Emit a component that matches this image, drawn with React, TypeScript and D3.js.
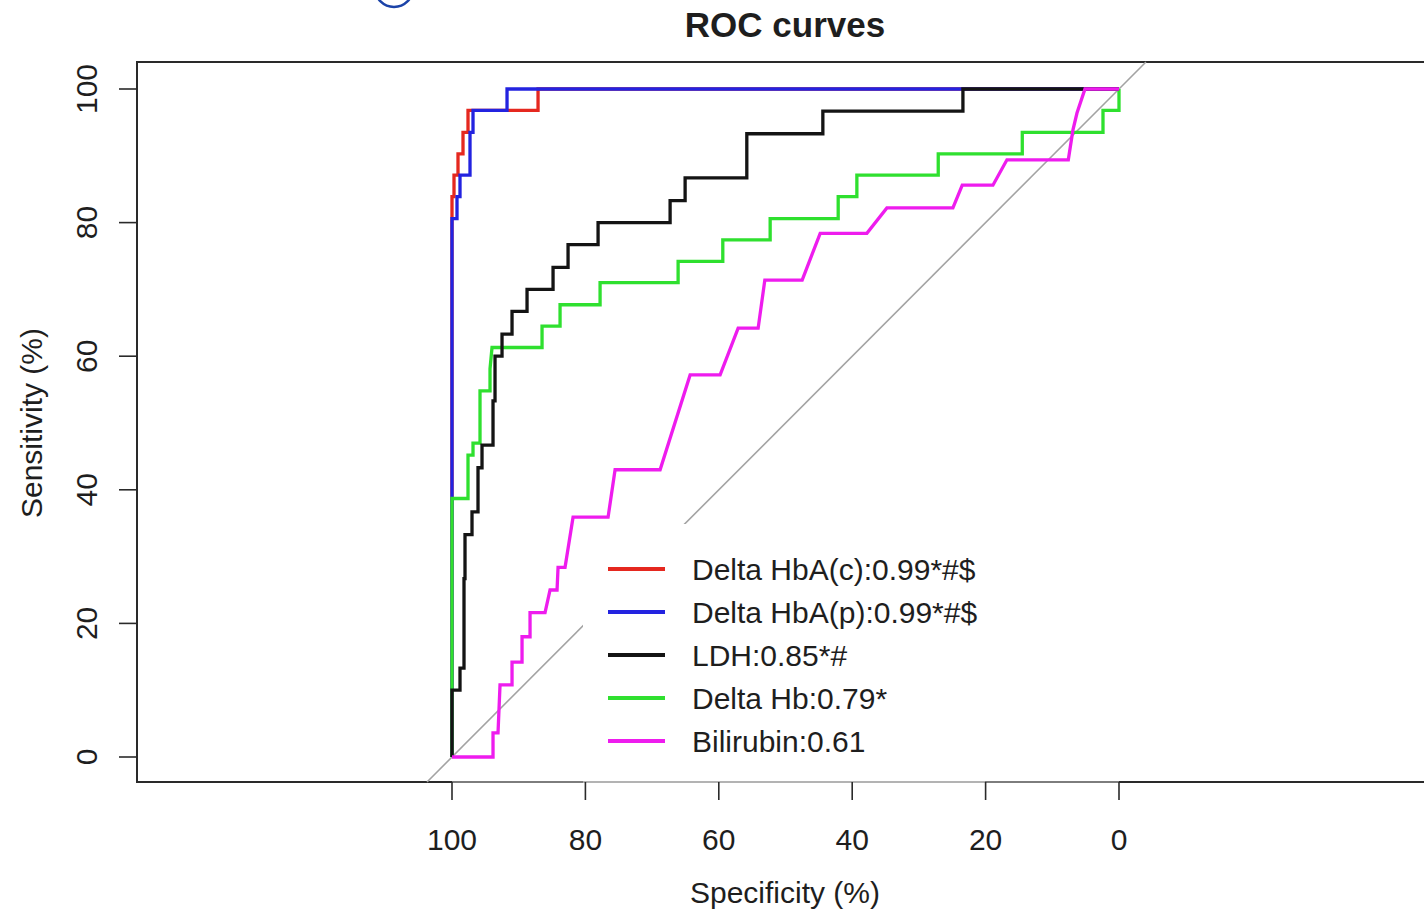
import React from "react";
import * as d3 from "d3";

// ROC curve vertices: specificity (%) and sensitivity (%) for each marker
const hbacSpec = [100, 100, 99.7, 99.7, 99.1, 99.1, 98.35, 98.35, 97.6, 97.6, 87.1, 87.1, 0];
const hbacSens = [0, 83.9, 83.9, 87.1, 87.1, 90.3, 90.3, 93.5, 93.5, 96.8, 96.8, 100, 100];

const hbapSpec = [100, 100, 99.25, 99.25, 98.8, 98.8, 97.3, 97.3, 96.85, 96.85, 91.75, 91.75, 0];
const hbapSens = [0, 80.6, 80.6, 83.9, 83.9, 87.1, 87.1, 93.5, 93.5, 96.8, 96.8, 100, 100];

const ldhSpec = [
  100, 100, 98.8, 98.8, 98.2, 98.2, 98.05, 98.05, 97.0, 97.0, 96.1, 96.1, 95.5, 95.5, 93.85, 93.85,
  93.55, 93.55, 92.5, 92.5, 91.0, 91.0, 88.75, 88.75, 84.85, 84.85, 82.6, 82.6, 78.1, 78.1, 67.3,
  67.3, 65.05, 65.05, 55.8, 55.8, 44.4, 44.4, 23.4, 23.4, 0,
];
const ldhSens = [
  0, 10, 10, 13.3, 13.3, 26.7, 26.7, 33.3, 33.3, 36.7, 36.7, 43.3, 43.3, 46.7, 46.7, 53.3,
  53.3, 60, 60, 63.3, 63.3, 66.7, 66.7, 70, 70, 73.3, 73.3, 76.7, 76.7, 80, 80,
  83.3, 83.3, 86.7, 86.7, 93.3, 93.3, 96.7, 96.7, 100, 100,
];

const hbSpec = [
  100, 100, 97.6, 97.6, 96.85, 96.85, 95.8, 95.8, 94.3, 94.3, 94.0, 86.5, 86.5, 83.8, 83.8, 77.8,
  77.8, 66.1, 66.1, 59.4, 59.4, 52.3, 52.3, 42.1, 42.1, 39.3, 39.3, 27.1, 27.1, 14.5, 14.5, 2.4,
  2.4, 0, 0,
];
const hbSens = [
  0, 38.7, 38.7, 45.2, 45.2, 47, 47, 54.8, 54.8, 58.1, 61.3, 61.3, 64.5, 64.5, 67.7, 67.7,
  71.0, 71.0, 74.2, 74.2, 77.4, 77.4, 80.6, 80.6, 83.9, 83.9, 87.1, 87.1, 90.3, 90.3, 93.5, 93.5,
  96.8, 96.8, 100,
];

const biliSpec = [
  100, 93.85, 93.85, 93.1, 92.8, 91.0, 91.0, 89.5, 89.5, 88.3, 88.3, 86.05, 85.3, 84.25, 84.1,
  83.05, 81.85, 76.6, 75.55, 68.8, 64.3, 59.8, 57.1, 54.1, 53.1, 47.5, 44.8, 37.8, 34.8, 24.9,
  23.5, 18.9, 16.8, 7.6, 6.9, 6.3, 5.1, 0,
];
const biliSens = [
  0, 0, 3.6, 3.6, 10.8, 10.8, 14.2, 14.2, 18.0, 18.0, 21.6, 21.6, 25.0, 25.0, 28.4,
  28.4, 35.9, 35.9, 43.0, 43.0, 57.2, 57.2, 64.2, 64.2, 71.4, 71.4, 78.4, 78.4, 82.2, 82.2,
  85.6, 85.6, 89.4, 89.4, 93.9, 96.4, 100, 100,
];

const legendLabels = [
  "Delta HbA(c):0.99*#$",
  "Delta HbA(p):0.99*#$",
  "LDH:0.85*#",
  "Delta Hb:0.79*",
  "Bilirubin:0.61",
];
const tickValues = [0, 20, 40, 60, 80, 100];

const FONT = "'Liberation Sans', Arial, Helvetica, sans-serif";
const TEXT = "#1e1e1e";

const COLORS = {
  red: "#e5281f",
  blue: "#2323e0",
  black: "#141414",
  green: "#2fe02f",
  magenta: "#ee1cee",
};

export default function App() {
  const W = 1424;
  const H = 912;
  const box = { left: 137, top: 62, right: 1440, bottom: 782 };

  const x = d3.scaleLinear().domain([100, 0]).range([452, 1119]);
  const y = d3.scaleLinear().domain([0, 100]).range([757, 89]);

  const line = d3
    .line<[number, number]>()
    .x((d) => x(d[0]))
    .y((d) => y(d[1]));

  const pts = (s: number[], e: number[]) => s.map((v, i) => [v, e[i]] as [number, number]);

  // legend entries in legend order; drawing order differs below
  const legendColors = [COLORS.red, COLORS.blue, COLORS.black, COLORS.green, COLORS.magenta];

  const curves = [
    { color: COLORS.red, d: line(pts(hbacSpec, hbacSens)) },
    { color: COLORS.blue, d: line(pts(hbapSpec, hbapSens)) },
    { color: COLORS.green, d: line(pts(hbSpec, hbSens)) },
    { color: COLORS.black, d: line(pts(ldhSpec, ldhSens)) },
    { color: COLORS.magenta, d: line(pts(biliSpec, biliSens)) },
  ];

  // chance diagonal sens = 100 - spec, clipped to the plot box
  const sensLow = y.invert(box.bottom);
  const sensHigh = y.invert(box.top);
  const diag = line([
    [100 - sensLow, sensLow],
    [100 - sensHigh, sensHigh],
  ]);

  const legend = { left: 583, top: 524, right: 985, bottom: 790, lineX0: 608, lineX1: 665, textX: 692, firstY: 569, step: 43 };

  return (
    <svg
      width={W}
      height={H}
      style={{ position: "absolute", left: 0, top: 0, background: "#fff" }}
      fontFamily={FONT}
    >
      <rect x={0} y={0} width={W} height={H} fill="#fff" />

      {/* partial badge ring at the top edge */}
      <circle cx={394} cy={-12} r={19} fill="none" stroke="#1b43a8" strokeWidth={2.5} />

      <text x={785} y={37} textAnchor="middle" fontSize={35} fontWeight="bold" fill={TEXT}>
        ROC curves
      </text>

      {/* plot frame */}
      <rect
        x={box.left}
        y={box.top}
        width={box.right - box.left}
        height={box.bottom - box.top}
        fill="none"
        stroke="#2a2a2a"
        strokeWidth={2}
      />

      {/* chance line */}
      <path d={diag ?? ""} fill="none" stroke="#a3a3a3" strokeWidth={1.6} />

      {curves.map((c, i) => (
        <path
          key={i}
          d={c.d ?? ""}
          fill="none"
          stroke={c.color}
          strokeWidth={3.3}
          strokeLinejoin="miter"
          strokeLinecap="butt"
        />
      ))}

      {/* legend */}
      <rect
        x={legend.left}
        y={legend.top}
        width={legend.right - legend.left}
        height={legend.bottom - legend.top}
        fill="#fff"
      />
      {legendLabels.map((lab, i) => {
        const ly = legend.firstY + i * legend.step;
        return (
          <g key={lab}>
            <line x1={legend.lineX0} x2={legend.lineX1} y1={ly} y2={ly} stroke={legendColors[i]} strokeWidth={3.8} />
            <text x={legend.textX} y={ly} dominantBaseline="central" fontSize={30} fill={TEXT}>
              {lab}
            </text>
          </g>
        );
      })}

      {/* x axis */}
      <line x1={x(100)} x2={x(0)} y1={box.bottom} y2={box.bottom} stroke="#9a9a9a" strokeWidth={1.6} />
      {tickValues.map((t) => (
        <g key={"x" + t}>
          <line x1={x(t)} x2={x(t)} y1={box.bottom} y2={box.bottom + 18} stroke="#2a2a2a" strokeWidth={1.6} />
          <text x={x(t)} y={850} textAnchor="middle" fontSize={30} fill={TEXT}>
            {t}
          </text>
        </g>
      ))}
      <text x={785} y={903} textAnchor="middle" fontSize={30} fill={TEXT}>
        Specificity (%)
      </text>

      {/* y axis */}
      {tickValues.map((t) => (
        <g key={"y" + t}>
          <line x1={box.left - 18} x2={box.left} y1={y(t)} y2={y(t)} stroke="#2a2a2a" strokeWidth={1.6} />
          <text
            transform={`translate(97,${y(t)}) rotate(-90)`}
            textAnchor="middle"
            fontSize={30}
            fill={TEXT}
          >
            {t}
          </text>
        </g>
      ))}
      <text transform={`translate(42,${y(50)}) rotate(-90)`} textAnchor="middle" fontSize={30} fill={TEXT}>
        Sensitivity (%)
      </text>
    </svg>
  );
}
